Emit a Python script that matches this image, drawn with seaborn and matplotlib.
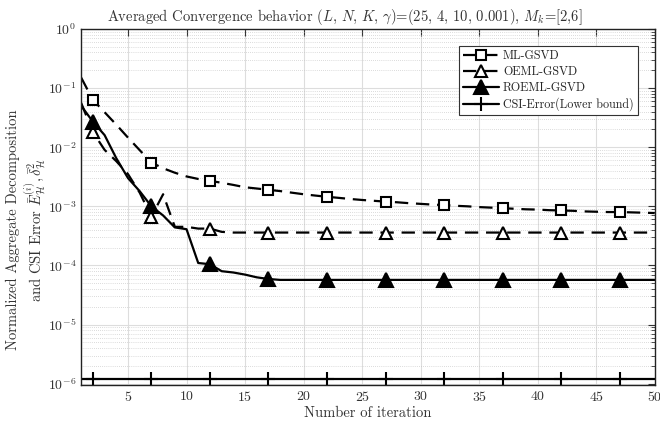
import numpy as np
import pandas as pd
import matplotlib
matplotlib.use("Agg")
import matplotlib.pyplot as plt
import seaborn as sns

iterations = list(range(1, 51))

ml_gsvd = [0.15, 0.063, 0.039, 0.024, 0.0145, 0.0089, 0.0055, 0.0044, 0.0037, 0.0032,
           0.0029, 0.0027, 0.0025, 0.0023, 0.0021, 0.0020, 0.0019, 0.00181, 0.00170, 0.00160,
           0.00152, 0.00145, 0.00139, 0.00133, 0.00128, 0.00124, 0.00120, 0.00117, 0.00113, 0.00110,
           0.00107, 0.00105, 0.00102, 0.00100, 0.00097, 0.00095, 0.00093, 0.00091, 0.00089, 0.00088,
           0.00086, 0.00085, 0.00084, 0.00082, 0.00081, 0.00080, 0.00080, 0.00079, 0.00078, 0.00077]

oeml_gsvd = [0.056, 0.018, 0.009, 0.0058, 0.0035, 0.0017, 0.00067, 0.0016, 0.00045, 0.00045,
             0.00042, 0.00042, 0.00037] + [0.00036] * 37

roeml_gsvd = [0.05, 0.027, 0.016, 0.0065, 0.003, 0.0018, 0.001, 0.0007, 0.00044, 0.00041,
              0.00011, 0.000105, 0.00008, 0.000076, 0.00007, 0.000063, 0.000059] + [0.000057] * 33

csi_error = [1.2e-6] * 50

series_labels = ["ML-GSVD", "OEML-GSVD", "ROEML-GSVD", "CSI-Error(Lower bound)"]
x_ticks = [5, 10, 15, 20, 25, 30, 35, 40, 45, 50]
y_ticks = [1e-6, 1e-5, 1e-4, 1e-3, 1e-2, 1e-1, 1e0]

sns.set_style("whitegrid")
plt.rcParams["font.family"] = "serif"
plt.rcParams["font.serif"] = ["cmr10", "DejaVu Serif"]
plt.rcParams["mathtext.fontset"] = "cm"
plt.rcParams["axes.formatter.use_mathtext"] = True

fig = plt.figure(figsize=(6.6, 4.25), dpi=100)
ax = fig.add_axes([0.123, 0.094, 0.869, 0.838])

df = pd.DataFrame({
    "iter": iterations * 4,
    "value": ml_gsvd + oeml_gsvd + roeml_gsvd + csi_error,
    "series": sum([[s] * 50 for s in series_labels], []),
})

styles = {
    "ML-GSVD": dict(ls=(0, (6, 3.5)), marker="s", mfc="white", ms=7),
    "OEML-GSVD": dict(ls=(0, (6, 3.5)), marker="^", mfc="white", ms=9),
    "ROEML-GSVD": dict(ls="-", marker="^", mfc="black", ms=10),
    "CSI-Error(Lower bound)": dict(ls="-", marker="+", mfc="black", ms=10),
}

for s in series_labels:
    st = styles[s]
    sub = df[df["series"] == s]
    sns.lineplot(data=sub, x="iter", y="value", ax=ax, color="black", lw=1.6,
                 linestyle=st["ls"], marker=st["marker"], markersize=st["ms"],
                 markerfacecolor=st["mfc"], markeredgecolor="black", markeredgewidth=1.5,
                 markevery=slice(1, None, 5), label=s)

ax.set_yscale("log")
ax.set_xlim(1, 50)
ax.set_ylim(9.5e-7, 1)
ax.set_xticks(x_ticks)
ax.set_yticks(y_ticks)
ax.grid(True, which="major", color="#dddddd", lw=0.8, ls="-")
ax.grid(True, which="minor", color="#bbbbbb", lw=0.5, ls=(0, (1, 2)))
ax.xaxis.set_minor_locator(matplotlib.ticker.NullLocator())
ax.yaxis.set_minor_locator(matplotlib.ticker.LogLocator(base=10, subs=np.arange(2, 10)))
ax.yaxis.set_minor_formatter(matplotlib.ticker.NullFormatter())
ax.tick_params(which="both", direction="in", top=True, right=True, colors="#333333",
               labelcolor="#333333", labelsize=10)
ax.tick_params(which="major", length=5)
ax.tick_params(which="minor", length=3)
for sp in ax.spines.values():
    sp.set_color("#222222")
    sp.set_linewidth(1.0)

ax.set_xlabel("Number of iteration", fontsize=10.5, color="#333333", labelpad=2)
ax.set_ylabel("Normalized Aggregate Decomposition\nand CSI Error $\\bar{E}^{(i)}_{\\mathcal{H}}, \\bar{\\delta}^2_{\\mathcal{H}}$",
              fontsize=10.5, color="#333333", linespacing=1.1)
ax.yaxis.set_label_coords(-0.058, 0.435)
ax.set_title("Averaged Convergence behavior $(L,\\, N,\\, K,\\, \\gamma)$=(25, 4, 10, 0.001), $M_k$=[2,6]",
             fontsize=10.5, color="#333333", pad=6, x=0.46)

leg = ax.legend(loc="upper right", bbox_to_anchor=(0.981, 0.969), fontsize=8.7, frameon=True,
                fancybox=False, edgecolor="#333333", framealpha=1, handlelength=3.0,
                borderpad=0.35, labelspacing=0.3, handletextpad=0.3)
leg.get_frame().set_linewidth(0.8)

fig.savefig("out.png", dpi=100)
